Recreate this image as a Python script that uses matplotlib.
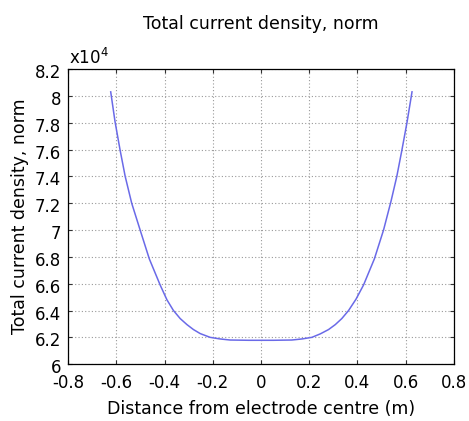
import matplotlib
matplotlib.use("Agg")
import matplotlib.pyplot as plt
import matplotlib.transforms as mtransforms

# Data (y in units of 1e4)
x_m = [-0.623, -0.605, -0.584, -0.563, -0.536, -0.501, -0.463, -0.418, -0.39,
       -0.363, -0.335, -0.307, -0.28, -0.252, -0.211, -0.17, -0.128,
       -0.05, 0.05, 0.128, 0.17, 0.211, 0.246, 0.28, 0.308, 0.335, 0.363,
       0.394, 0.425, 0.47, 0.508, 0.539, 0.563, 0.584, 0.605, 0.626]
j_norm = [8.03, 7.807, 7.595, 7.40, 7.20, 7.0, 6.785, 6.59, 6.48,
          6.40, 6.34, 6.295, 6.258, 6.228, 6.20, 6.188, 6.18,
          6.178, 6.178, 6.18, 6.188, 6.20, 6.226, 6.258, 6.295, 6.34, 6.40,
          6.485, 6.59, 6.785, 7.0, 7.215, 7.40, 7.595, 7.80, 8.03]

x_ticks = [-0.8, -0.6, -0.4, -0.2, 0, 0.2, 0.4, 0.6, 0.8]
x_ticklabels = ["-0.8", "-0.6", "-0.4", "-0.2", "0", "0.2", "0.4", "0.6", "0.8"]
y_ticks = [6, 6.2, 6.4, 6.6, 6.8, 7, 7.2, 7.4, 7.6, 7.8, 8, 8.2]
y_ticklabels = ["6", "6.2", "6.4", "6.6", "6.8", "7", "7.2", "7.4", "7.6", "7.8", "8", "8.2"]

fig = plt.figure(figsize=(4.69, 4.21), dpi=100)
ax = fig.add_axes([0.145, 0.135, 0.823, 0.701])
ax.plot(x_m, j_norm, color="#6a6ae8", lw=1.1)
ax.set_xlim(-0.8, 0.8)
ax.set_ylim(6, 8.2)
ax.set_xticks(x_ticks)
ax.set_xticklabels(x_ticklabels)
ax.set_yticks(y_ticks)
ax.set_yticklabels(y_ticklabels)
ax.tick_params(direction="in", top=True, right=True, labelsize=12, length=3,
               color="#333333")
ax.tick_params(axis="x", pad=7)
ax.tick_params(axis="y", pad=5)
offset = mtransforms.ScaledTranslation(0, -1.5 / 72, fig.dpi_scale_trans)
for lab in ax.get_yticklabels():
    lab.set_transform(lab.get_transform() + offset)
for s in ax.spines.values():
    s.set_linewidth(0.9)
ax.grid(True, linestyle=(0, (1, 2)), color="#999999", lw=0.8)
ax.set_xlabel("Distance from electrode centre (m)", fontsize=12.5, labelpad=5.5)
ax.set_ylabel("Total current density, norm", fontsize=12.5, labelpad=4)
ax.set_title("Total current density, norm", fontsize=12.5, pad=29)
ax.annotate(r"x10$^4$", xy=(0, 1), xycoords="axes fraction", xytext=(0.5, 3.5),
            textcoords="offset points", fontsize=12, ha="left", va="baseline")
fig.savefig("out.png", dpi=100)
